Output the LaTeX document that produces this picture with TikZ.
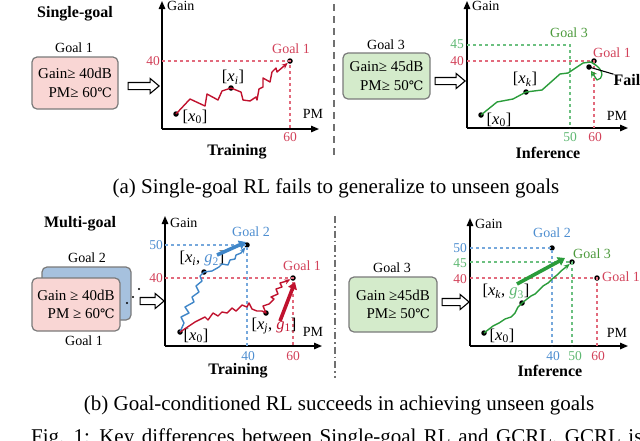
\documentclass[tikz,border=0pt]{standalone}
\usepackage{fontspec}
\setmainfont{Liberation Serif}
\newfontfamily\symfnt{DejaVu Serif}
\usetikzlibrary{arrows.meta,shapes.arrows}
\definecolor{redp}{HTML}{C0122E}
\definecolor{redl}{HTML}{D2425A}
\definecolor{redd}{HTML}{E26A7C}
\definecolor{bluep}{HTML}{3F86C8}
\definecolor{bluel}{HTML}{4E8ED0}
\definecolor{blued}{HTML}{76A8DC}
\definecolor{greenp}{HTML}{2A9C3A}
\definecolor{greenl}{HTML}{5FB873}
\definecolor{greend}{HTML}{6CC080}
\definecolor{greent}{HTML}{4C9A3C}
\definecolor{pinkf}{HTML}{F9D6D4}
\definecolor{bluef}{HTML}{A6C1DE}
\definecolor{greenf}{HTML}{D4EBCB}
\definecolor{boxgray}{HTML}{7A7A7A}
\definecolor{sepgray}{HTML}{707070}
\newcommand{\degC}{{\symfnt\fontsize{13}{15}\selectfont ℃}}
\newcommand{\xs}[1]{[\textit{x}\textsubscript{#1}]}
\newcommand{\xg}[3]{[\textit{x}\textsubscript{\textit{#1}}, \textcolor{#3}{\textit{g}\textsubscript{#2}}]}
\tikzset{
  lbl/.style={font=\fontsize{14}{16}\selectfont, inner sep=0pt},
  tick/.style={font=\fontsize{13.5}{15}\selectfont, inner sep=0pt},
  xlbl/.style={font=\fontsize{16.5}{18}\selectfont, inner sep=0pt},
  ttl/.style={font=\fontsize{16}{18}\selectfont\bfseries, inner sep=0pt},
  captxt/.style={font=\fontsize{21}{24}\selectfont, inner sep=0pt},
  goalbox/.style={draw=boxgray, line width=1.2pt, rounded corners=5pt, align=right,
    font=\fontsize{15}{18.5}\selectfont, inner sep=0pt},
  harrow/.style={single arrow, draw=black, fill=white, line width=1.1pt,
    inner xsep=0pt, inner ysep=3pt, single arrow head extend=4pt,
    single arrow tip angle=80, minimum height=#1},
  dotn/.style={circle, fill=black, inner sep=0pt, minimum size=5.5pt},
  sdot/.style={circle, fill=black, inner sep=0pt, minimum size=2.2pt},
  axisln/.style={line width=1.4pt, -{Triangle[length=8pt,width=6.5pt]}},
  dsh/.style={line width=1.1pt, dash pattern=on 3pt off 3pt},
  trail/.style={line width=1.4pt, line join=round, -{Stealth[length=6pt,width=5pt]}},
  fatarr/.style={line width=3.6pt, -{Triangle[length=7pt,width=9pt]}},
}
\begin{document}
\begin{tikzpicture}[x=1pt,y=-1pt]
\useasboundingbox (0,0) rectangle (640,440);

% ================= (a) left: training =================
\node[ttl] (t1) at (75,14) {Single-goal};
\node[lbl] (g1name) at (74,48) {Goal 1};
\node[goalbox, fill=pinkf, minimum width=86pt, minimum height=52pt] (box1) at (75,83)
  {Gain≥ 40dB\hspace{5pt}\\PM≥ 60\degC\hspace{5pt}};
\node[harrow=31pt] (ha1) at (141.5,86) {};

\coordinate (o1) at (162,129);
\coordinate (y1) at (162,1);
\coordinate (x1) at (319,129);
\draw[axisln] (o1) -- (y1);
\draw[axisln] (o1) -- (x1);
\node[lbl, anchor=west] (gain1) at (167,6) {Gain};
\node[lbl] (pm1) at (313,114) {PM};

\node[dotn] (G1a) at (290,61) {};
\draw[dsh, redd] (o1 |- G1a.center) -- (G1a.center) -- (G1a.center |- o1);
\node[tick, text=redl] (l40a) at (153,61) {40};
\node[tick, text=redl] (l60a) at (290,137) {60};
\node[lbl, text=redl] (G1alab) at (291,49) {Goal 1};

\node[dotn] (x0a) at (176,114) {};
\node[dotn] (xia) at (231,88) {};
\node[xlbl] (x0alab) at (195,117) {\xs{0}};
\node[xlbl] (xialab) at (233,77) {\xs{\textit{i}}};
\draw[trail, redp] (x0a.center) -- (190,99) -- (205,106) -- (207,94) -- (218,100) -- (222,91)
  -- (xia.center) -- (241,92) -- (243,100) -- (250,101) -- (256,97) -- (257,100) -- (259,89)
  -- (263,87) -- (263,78) -- (270,82) -- (272,72) -- (276,68) -- (277,72) -- (G1a);
\node[ttl] (tr1) at (237,152) {Training};

% separator
\draw[sepgray, line width=1.1pt, dash pattern=on 7pt off 5pt] (334,4) -- (334,158);

% ================= (a) right: inference =================
\node[lbl] (g3name) at (386,45) {Goal 3};
\node[goalbox, fill=greenf, minimum width=87pt, minimum height=46pt] (box2) at (386.5,76)
  {Gain≥ 45dB\hspace{5pt}\\PM≥ 50\degC\hspace{5pt}};
\node[harrow=30pt] (ha2) at (448,81) {};

\coordinate (o2) at (467,128);
\coordinate (y2) at (467,1);
\coordinate (x2) at (628,128);
\draw[axisln] (o2) -- (y2);
\draw[axisln] (o2) -- (x2);
\node[lbl, anchor=west] (gain2) at (472,6) {Gain};
\node[lbl] (pm2) at (617,116) {PM};

\coordinate (G3b) at (570,45);
\draw[dsh, greend] (o2 |- G3b) -- (G3b) -- (G3b |- o2);
\node[dotn] (G1b) at (594,61) {};
\draw[dsh, redd] (o2 |- G1b.center) -- (G1b.center) -- (G1b.center |- o2);
\node[tick, text=greenl] (l45b) at (457,44) {45};
\node[tick, text=redl] (l40b) at (457,61) {40};
\node[tick, text=greenl] (l50b) at (570,137) {50};
\node[tick, text=redl] (l60b) at (595,137) {60};
\node[lbl, text=greent] (G3blab) at (569,33) {Goal 3};
\node[lbl, text=redl] (G1blab) at (612,53) {Goal 1};

\node[dotn] (x0b) at (481,115) {};
\node[dotn] (xkb) at (526,92) {};
\node[xlbl] (x0blab) at (499,120) {\xs{0}};
\node[xlbl] (xkblab) at (525,79) {\xs{\textit{k}}};
\draw[line width=1.4pt, greenp, line join=round] (x0b.center) -- (497,102) -- (513,99) -- (xkb.center)
  -- (542,90) -- (560,74) -- (568,73) -- (583,63) -- (591,62) -- (597,66);
\draw[line width=1.3pt, greenp, line join=round, -{Stealth[open,length=6pt,width=7pt]}]
  (597,66) .. controls (604,72) and (603,79) .. (597,80) -- (591,71);
\node[dotn] (fd) at (589,67) {};
\node[ttl] (fail) at (627,80) {Fail};
\draw[line width=1.1pt] (fd.center) -- (fail.north west);
\node[ttl] (inf1) at (548,153) {Inference};

% caption (a)
\node[captxt] (capa) at (336,188) {(a) Single-goal RL fails to generalize to unseen goals};

% ================= (b) left: training =================
\node[ttl] (t2) at (80,224) {Multi-goal};
\node[lbl] (g2name) at (87,258) {Goal 2};
\node[draw=boxgray, line width=1.2pt, rounded corners=5pt, fill=bluef,
  minimum width=89pt, minimum height=53pt, inner sep=0pt] (box3b) at (86.5,293.5) {};
\node[goalbox, fill=pinkf, minimum width=88pt, minimum height=53pt] (box3a) at (76,304.5)
  {Gain ≥ 40dB\hspace{5pt}\\PM ≥ 60\degC\hspace{5pt}};
\node[lbl] (g1name2) at (84,341) {Goal 1};
\node[sdot] (d1) at (127,303) {};
\node[sdot] (d2) at (133,297) {};
\node[sdot] (d3) at (139,289) {};
\node[harrow=24pt] (ha3) at (150,301) {};

\coordinate (o3) at (165,346);
\coordinate (y3) at (165,216);
\coordinate (x3) at (322,346);
\draw[axisln] (o3) -- (y3);
\draw[axisln] (o3) -- (x3);
\node[lbl, anchor=west] (gain3) at (170,223) {Gain};
\node[lbl] (pm3) at (313,332) {PM};

\node[dotn] (G2c) at (247,245) {};
\node[dotn] (G1c) at (293,278) {};
\draw[dsh, blued] (o3 |- G2c.center) -- (G2c.center) -- (G2c.center |- o3);
\draw[dsh, redd] (o3 |- G1c.center) -- (G1c.center) -- (G1c.center |- o3);
\node[tick, text=bluel] (l50c) at (156,245) {50};
\node[tick, text=redl] (l40c) at (156,278) {40};
\node[tick, text=bluel] (l40cx) at (248,356) {40};
\node[tick, text=redl] (l60cx) at (293,356) {60};
\node[lbl, text=bluel] (G2clab) at (251,232) {Goal 2};
\node[lbl, text=redl, anchor=west] (G1clab) at (283,266) {Goal 1};

\node[dotn] (x0c) at (180,332) {};
\node[dotn] (xic) at (204,272) {};
\node[dotn] (xjc) at (266,313) {};
\node[xlbl] (x0clab) at (196,336) {\xs{0}};
\node[xlbl] (xiclab) at (202,259) {\xg{i}{2}{bluel}};
\node[xlbl] (xjclab) at (274,326) {\xg{j}{1}{redp}};
\draw[trail, bluep] (x0c.center) -- (184,323) -- (181,317) -- (189,313) -- (185,307) -- (194,302)
  -- (192,297) -- (199,292) -- (196,286) -- (202,281) -- (200,276) -- (xic.center) -- (212,271)
  -- (219,267) -- (222,264) -- (228,265) -- (230,260) -- (235,259) -- (236,255) -- (241,253)
  -- (G2c);
\draw[trail, redp] (x0c.center) -- (195,322) -- (205,317) -- (208,320) -- (213,313) -- (218,316)
  -- (222,312) -- (227,313) -- (232,308) -- (236,311) -- (242,305) -- (247,307) -- (249,303)
  -- (252,309) -- (257,311) -- (262,311) -- (xjc.center) -- (263,306) -- (269,304) -- (274,299)
  -- (271,297) -- (278,294) -- (276,289) -- (282,287) -- (280,283) -- (287,281) -- (G1c);
\coordinate (fb1) at (217,255);
\coordinate (fb2) at (246,242);
\draw[fatarr, bluep] (fb1) -- (fb2);
\coordinate (fr1) at (280,321);
\coordinate (fr2) at (295,282);
\draw[fatarr, redp] (fr1) -- (fr2);
\node[ttl] (tr2) at (238,371) {Training};

% separator
\draw[sepgray, line width=1.1pt, dash pattern=on 7pt off 3pt on 1.5pt off 3pt] (335,216) -- (335,378);

% ================= (b) right: inference =================
\node[lbl] (g3name2) at (392,268) {Goal 3};
\node[goalbox, fill=greenf, minimum width=88pt, minimum height=55pt] (box4) at (393,304.5)
  {Gain ≥45dB\hspace{5pt}\\PM≥ 50\degC\hspace{5pt}};
\node[harrow=27pt] (ha4) at (453.5,302) {};

\coordinate (o4) at (470,346);
\coordinate (y4) at (470,218);
\coordinate (x4) at (628,346);
\draw[axisln] (o4) -- (y4);
\draw[axisln] (o4) -- (x4);
\node[lbl, anchor=west] (gain4) at (475,224) {Gain};
\node[lbl] (pm4) at (617,333) {PM};

\node[dotn] (G2d) at (552,248) {};
\node[dotn] (G3d) at (572,262) {};
\node[dotn] (G1d) at (597,278) {};
\draw[dsh, blued] (o4 |- G2d.center) -- (G2d.center) -- (G2d.center |- o4);
\draw[dsh, greend] (o4 |- G3d.center) -- (G3d.center) -- (G3d.center |- o4);
\draw[dsh, redd] (o4 |- G1d.center) -- (G1d.center) -- (G1d.center |- o4);
\node[tick, text=bluel] (l50d) at (460,248) {50};
\node[tick, text=greenl] (l45d) at (460,263) {45};
\node[tick, text=redl] (l40d) at (460,279) {40};
\node[tick, text=bluel] (l40dx) at (553,356) {40};
\node[tick, text=greenl] (l50dx) at (575,356) {50};
\node[tick, text=redl] (l60dx) at (598,356) {60};
\node[lbl, text=bluel] (G2dlab) at (552,233) {Goal 2};
\node[lbl, text=greent, anchor=west] (G3dlab) at (573,254) {Goal 3};
\node[lbl, text=redl, anchor=west] (G1dlab) at (602,277) {Goal 1};

\node[dotn] (x0d) at (484,333) {};
\node[dotn] (xkd) at (522,303) {};
\node[xlbl] (x0dlab) at (502,336) {\xs{0}};
\node[xlbl] (xkdlab) at (506,292) {\xg{k}{3}{greenl}};
\draw[trail, greenp] (x0d.center) -- (493,326) -- (499,323) -- (505,319) -- (511,317) -- (515,313)
  -- (518,307) -- (xkd.center) -- (527,299) -- (531,296) -- (535,294) -- (540,289) -- (543,286)
  -- (548,283) -- (552,279) -- (557,275) -- (561,271) -- (566,267) -- (G3d);
\coordinate (fg1) at (517,284);
\coordinate (fg2) at (565,258);
\draw[fatarr, greenp] (fg1) -- (fg2);
\node[ttl] (inf2) at (550,371) {Inference};

% caption (b)
\node[captxt] (capb) at (339,405) {(b) Goal-conditioned RL succeeds in achieving unseen goals};
\node[captxt, anchor=base west] (fig) at (31,443.5) {\spaceskip=7.5pt Fig. 1: Key differences between Single-goal RL and GCRL. GCRL is};
\end{tikzpicture}
\end{document}
